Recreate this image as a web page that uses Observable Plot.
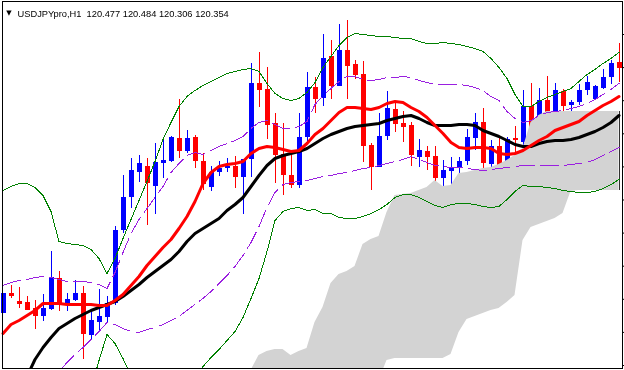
<!DOCTYPE html>
<html><head><meta charset="utf-8">
<script src="https://cdn.jsdelivr.net/npm/d3@7"></script>
<script src="https://cdn.jsdelivr.net/npm/@observablehq/plot@0.6"></script>
<style>html,body{margin:0;padding:0;background:#fff;} svg{display:block}</style>
</head><body><div id="chart"></div><script>
// Header
const symbolLabel = "USDJPYpro,H1";
const ohlcLabels = ["120.477", "120.484", "120.306", "120.354"];
// Candles (bar index 0..77), prices
const open = [118.87,119.07,118.99,118.98,118.92,118.84,118.91,119.22,118.97,119.00,
119.07,118.65,118.78,118.83,118.97,119.70,120.03,120.28,120.34,120.14,
120.37,120.39,120.62,120.49,120.63,120.39,120.13,120.28,120.32,120.34,
120.23,120.41,121.17,121.11,120.77,120.46,120.25,120.15,120.63,121.13,
121.02,121.44,121.14,121.50,121.36,121.26,120.55,120.33,120.64,120.91,
120.77,120.75,120.43,120.49,120.44,120.22,120.29,120.32,120.39,120.62,
120.78,120.36,120.54,120.35,120.62,120.58,120.94,120.52,121.00,120.85,
121.09,120.95,120.98,121.10,121.01,121.12,121.23,121.38];
const high = [119.07,119.15,119.13,119.04,119.00,119.06,119.49,119.29,119.07,119.20,
119.14,118.88,119.11,119.04,119.74,120.25,120.42,120.45,120.42,120.57,
120.63,120.64,121.01,120.70,120.65,120.47,120.34,120.39,120.42,120.44,
120.41,121.37,121.48,121.33,120.87,120.77,120.45,120.87,121.28,121.23,
121.66,121.60,121.76,121.80,121.40,121.39,120.57,120.87,121.09,120.98,
120.89,120.78,120.61,120.54,120.54,120.40,120.43,120.43,120.71,120.87,
120.92,120.60,120.63,120.63,120.74,121.10,121.17,121.12,121.24,121.17,
121.11,121.00,121.16,121.24,121.15,121.31,121.40,121.57];
const low = [118.87,119.02,118.92,118.90,118.71,118.79,118.90,118.89,118.89,118.99,
118.41,118.61,118.70,118.77,118.95,119.67,119.92,120.18,119.75,119.86,
120.22,120.38,120.42,120.47,120.32,120.10,120.09,120.24,120.28,120.12,
119.86,120.23,120.93,120.61,120.17,120.05,120.12,120.12,120.59,120.87,
120.94,121.01,121.14,121.01,121.21,120.38,120.10,120.33,120.60,120.68,
120.58,120.34,120.33,120.30,120.15,120.09,120.12,120.20,120.35,120.50,
120.29,120.20,120.25,120.22,120.48,120.51,120.44,120.32,120.80,120.82,
120.88,120.77,120.95,121.05,121.00,121.11,121.16,121.18];
const close = [119.07,119.04,118.96,118.90,118.84,118.92,119.23,118.97,119.01,119.07,
118.66,118.80,118.84,118.97,119.70,120.03,120.30,120.37,120.17,120.38,
120.40,120.63,120.49,120.62,120.39,120.16,120.28,120.32,120.34,120.23,
120.41,121.17,121.10,120.75,120.45,120.25,120.15,120.63,121.13,121.01,
121.42,121.14,121.50,121.34,121.25,120.54,120.33,120.64,120.92,120.76,
120.73,120.45,120.50,120.43,120.22,120.30,120.33,120.39,120.63,120.78,
120.37,120.54,120.35,120.61,120.60,120.94,120.52,121.00,120.82,121.10,
120.94,120.98,121.10,121.18,121.14,121.23,121.37,121.32];
// Fast moving average (red)
const maFast = [118.67,118.76,118.80,118.85,118.90,118.97,118.97,118.97,118.96,118.96,
118.96,118.96,118.95,118.95,119.00,119.06,119.15,119.24,119.35,119.44,
119.53,119.61,119.72,119.84,119.99,120.17,120.28,120.34,120.36,120.37,
120.39,120.47,120.52,120.54,120.53,120.51,120.49,120.50,120.57,120.66,
120.72,120.80,120.88,120.93,120.93,120.92,120.91,120.93,120.97,120.99,
120.98,120.93,120.89,120.83,120.75,120.67,120.58,120.53,120.52,120.53,
120.53,120.52,120.47,120.46,120.47,120.50,120.55,120.60,120.64,120.70,
120.73,120.76,120.79,120.85,120.90,120.95,120.99,121.04];
// Slow moving average (black)
const maSlow = [null,null,null,118.24,118.41,118.53,118.63,118.72,118.77,118.82,
118.86,118.90,118.93,118.96,118.99,119.04,119.10,119.16,119.23,119.29,
119.35,119.41,119.49,119.59,119.67,119.72,119.77,119.82,119.90,119.96,
120.03,120.14,120.25,120.35,120.42,120.45,120.47,120.49,120.52,120.57,
120.62,120.66,120.69,120.72,120.74,120.75,120.76,120.77,120.80,120.82,
120.84,120.85,120.82,120.78,120.75,120.75,120.75,120.76,120.76,120.75,
120.70,120.67,120.64,120.60,120.56,120.54,120.54,120.57,120.59,120.60,
120.60,120.61,120.63,120.66,120.69,120.73,120.78,120.85];
// Outer bands (green)
const bandOuterUp = [120.10,120.14,120.17,120.17,120.13,120.05,119.89,119.59,119.57,119.56,
119.55,119.51,119.42,119.27,119.42,119.62,119.81,120.00,120.19,120.39,
120.61,120.78,120.94,121.04,121.10,121.15,121.19,121.23,121.27,121.29,
121.31,121.32,121.29,121.17,121.07,121.02,121.00,121.02,121.08,121.18,
121.33,121.44,121.55,121.63,121.67,121.66,121.65,121.64,121.64,121.63,
121.62,121.62,121.59,121.57,121.57,121.58,121.57,121.56,121.54,121.52,
121.49,121.42,121.33,121.22,121.06,120.94,120.94,120.99,121.03,121.06,
121.09,121.12,121.19,121.26,121.31,121.37,121.42,121.48];
const bandOuterLo = [116.20,116.30,116.40,116.50,116.70,117.00,117.35,117.80,117.95,118.05,
118.10,118.12,118.40,118.66,118.57,118.42,118.25,118.10,117.95,117.85,
117.80,117.82,117.90,118.05,118.24,118.34,118.43,118.51,118.60,118.69,
118.83,119.02,119.22,119.49,119.80,119.89,119.92,119.93,119.90,119.91,
119.87,119.87,119.83,119.82,119.82,119.84,119.87,119.91,119.96,120.03,
120.06,120.06,120.03,119.99,119.95,119.93,119.96,119.97,119.97,119.96,
119.94,119.93,119.94,120.01,120.09,120.15,120.14,120.14,120.13,120.12,
120.10,120.09,120.08,120.08,120.09,120.12,120.16,120.21];
// Inner bands (purple, dashed)
const bandInnerUp = [119.15,119.18,119.20,119.21,119.23,119.24,119.23,119.21,119.19,119.19,
119.19,119.18,119.16,119.12,119.28,119.48,119.67,119.81,119.92,120.03,
120.14,120.28,120.37,120.45,120.48,120.46,120.50,120.54,120.57,120.60,
120.64,120.72,120.78,120.80,120.76,120.72,120.72,120.74,120.79,120.96,
121.05,121.12,121.19,121.24,121.24,121.21,121.20,121.21,121.23,121.23,
121.24,121.23,121.20,121.18,121.16,121.16,121.16,121.16,121.15,121.13,
121.10,121.04,121.00,120.89,120.82,120.78,120.80,120.85,120.88,120.89,
120.90,120.92,120.94,120.97,121.01,121.06,121.11,121.17];
const bandInnerLo = [117.90,117.95,118.00,118.05,118.10,118.15,118.20,118.29,118.38,118.46,
118.53,118.61,118.69,118.78,118.76,118.72,118.69,118.68,118.71,118.73,
118.76,118.80,118.84,118.90,118.96,119.02,119.09,119.17,119.25,119.34,
119.45,119.58,119.74,119.93,120.08,120.16,120.18,120.19,120.20,120.22,
120.24,120.25,120.27,120.28,120.30,120.32,120.33,120.35,120.37,120.39,
120.41,120.44,120.41,120.38,120.35,120.34,120.33,120.33,120.32,120.31,
120.30,120.31,120.32,120.33,120.34,120.35,120.35,120.35,120.35,120.35,
120.35,120.36,120.37,120.38,120.41,120.45,120.49,120.53];
// Ichimoku cloud (from bar 31)
const cloudTop = [null,null,null,null,null,null,null,null,null,null,
null,null,null,null,null,null,null,null,null,null,
null,null,null,null,null,null,null,null,null,null,
null,118.30,118.45,118.49,118.51,118.51,118.45,118.49,118.52,118.78,
118.93,119.17,119.26,119.29,119.34,119.56,119.61,119.64,119.88,120.05,
120.06,120.07,120.10,120.13,120.20,120.14,120.15,120.27,120.28,120.30,
120.32,120.33,120.36,120.40,120.45,120.52,120.78,120.85,120.89,120.89,
120.89,120.89,120.89,120.89,120.89,120.89,120.89,120.89];
const cloudBottom = [null,null,null,null,null,null,null,null,null,null,
null,null,null,null,null,null,null,null,null,null,
null,null,null,null,null,null,null,null,null,null,
null,118.20,118.20,118.20,118.20,118.20,118.20,118.20,118.20,118.20,
118.20,118.20,118.20,118.20,118.20,118.20,118.20,118.20,118.40,118.42,
118.42,118.42,118.42,118.42,118.42,118.42,118.46,118.68,118.81,118.84,
118.87,118.90,118.92,118.98,119.05,119.60,119.73,119.76,119.79,119.82,
119.87,120.09,120.10,120.10,120.10,120.10,120.10,120.10];
// Price grid ticks on right edge
const priceTicks = [121.66,121.329,120.998,120.667,120.336,120.005,119.674,119.343,119.012,118.681,118.35];

const bars = open.map((o, i) => ({i, o, h: high[i], l: low[i], c: close[i]}));
const bull = bars.filter(d => d.c >= d.o);
const bear = bars.filter(d => d.c < d.o);
const ser = arr => arr.map((v, i) => ({i, v})).filter(d => d.v != null);
const cloud = cloudTop.map((t, i) => ({i, t, b: cloudBottom[i]})).filter(d => d.t != null);
const cloudEnd = cloud.slice(-1);
const header = [symbolLabel + "  " + ohlcLabels.join(" ")];
const crisp = {clip: true, shapeRendering: "crispEdges"};

const chart = Plot.plot({
  width: 624, height: 370,
  marginTop: 0, marginLeft: 0, marginRight: 2, marginBottom: 2,
  x: {type: "linear", domain: [-0.3125, 77.4375], axis: null},
  y: {domain: [118.32, 122.00]},
  style: {background: "white", overflow: "visible"},
  marks: [
    Plot.ruleX(bull, {x: "i", y1: "l", y2: "h", stroke: "#0000ff", strokeWidth: 1, ...crisp}),
    Plot.ruleX(bear, {x: "i", y1: "l", y2: "h", stroke: "#ff0000", strokeWidth: 1, ...crisp}),
    Plot.ruleX(bull, {x: "i", y1: "o", y2: "c", stroke: "#0000ff", strokeWidth: 5, ...crisp}),
    Plot.ruleX(bear, {x: "i", y1: "o", y2: "c", stroke: "#ff0000", strokeWidth: 5, ...crisp}),
    Plot.areaY(cloud, {x: "i", y1: "b", y2: "t", fill: "#d3d3d3", clip: true, mixBlendMode: "multiply"}),
    Plot.ruleX(cloudEnd, {x: "i", y1: "b", y2: "t", stroke: "#303030", strokeWidth: 1, shapeRendering: "crispEdges"}),
    Plot.line(ser(bandOuterUp), {x: "i", y: "v", stroke: "#008000", strokeWidth: 1, ...crisp}),
    Plot.line(ser(bandOuterLo), {x: "i", y: "v", stroke: "#008000", strokeWidth: 1, ...crisp}),
    Plot.line(ser(bandInnerUp), {x: "i", y: "v", stroke: "#9a1fe0", strokeWidth: 1, strokeDasharray: "18,6", ...crisp}),
    Plot.line(ser(bandInnerLo), {x: "i", y: "v", stroke: "#9a1fe0", strokeWidth: 1, strokeDasharray: "18,6", ...crisp}),
    Plot.line(ser(maSlow), {x: "i", y: "v", stroke: "#000000", strokeWidth: 3, clip: true}),
    Plot.line(ser(maFast), {x: "i", y: "v", stroke: "#ff0000", strokeWidth: 3, clip: true}),
    Plot.frame({stroke: "black", insetLeft: 1.5, insetTop: 0.5, insetRight: 0.5, insetBottom: 0.5, shapeRendering: "crispEdges"}),
    Plot.axisY(priceTicks, {anchor: "right", tickSize: 3, tickFormat: () => "", label: null}),
    Plot.text(["▼"], {frameAnchor: "top-left", dx: 8.5, dy: 10, fontSize: 7, fontFamily: "DejaVu Sans", fill: "black", textAnchor: "middle"}),
    Plot.text(header, {frameAnchor: "top-left", dx: 17, dy: 10, textAnchor: "start", fontSize: 9.3, fontFamily: "Liberation Sans", fill: "black", style: "white-space:pre"})
  ]
});
document.getElementById("chart").appendChild(chart);
</script></body></html>
